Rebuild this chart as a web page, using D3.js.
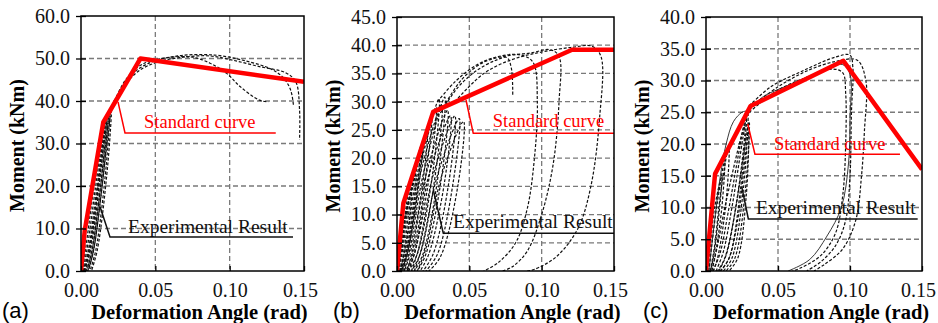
<!DOCTYPE html>
<html>
<head>
<meta charset="utf-8">
<script src="https://cdn.jsdelivr.net/npm/d3@7"></script>
<style>
  body { margin: 0; background: #fff; }
  svg { display: block; }
</style>
</head>
<body>
<svg id="chart" width="938" height="323"></svg>
<script>
// ticks
const xTicks = [0, 0.05, 0.10, 0.15]
const yTicksA = [0, 10, 20, 30, 40, 50, 60]
const yTicksB = [0, 5, 10, 15, 20, 25, 30, 35, 40, 45]
const yTicksC = [0, 5, 10, 15, 20, 25, 30, 35, 40]

// standard curves, [angle, moment]
const standardA = [[0, 0], [0.0025, 9.5], [0.015, 35], [0.040, 50], [0.150, 44.5]]
const standardB = [[0, 0], [0.0044, 12], [0.025, 28.2], [0.121, 39.2], [0.150, 39.2]]
const standardC = [[0, 0], [0.0063, 15.3], [0.031, 26], [0.0954, 33.1], [0.150, 16]]

// experimental hysteresis loops (positive branch)
const loopsA = [
    [[0.0005, 0], [0.003, 5], [0.008, 18], [0.0155, 35], [0.013, 25], [0.006, 6], [0.002, 0]],
    [[0.001, 0], [0.004, 5], [0.0095, 19], [0.0165, 36], [0.014, 26], [0.007, 6], [0.003, 0]],
    [[0.0015, 0], [0.005, 5], [0.0105, 19], [0.0175, 37], [0.015, 26], [0.008, 6], [0.004, 0]],
    [[0.0025, 0], [0.006, 5], [0.0115, 19], [0.0185, 37.5], [0.016, 26], [0.009, 6], [0.005, 0]],
    [[0.0035, 0], [0.007, 4], [0.0125, 18], [0.0195, 38], [0.017, 25], [0.010, 5], [0.006, 0]],
    [[0.0045, 0], [0.008, 4], [0.0135, 18], [0.0205, 38.5], [0.018, 25], [0.011, 5], [0.007, 0]]
]
const envelopeA = [
    [[0.0195, 37.5], [0.0307, 44.2], [0.0397, 47.3], [0.053, 49.3], [0.071, 50.4], [0.0868, 50.6], [0.102, 49.6], [0.120, 48.1], [0.138, 46.6], [0.1445, 44.5], [0.147, 38], [0.147, 30.8]],
    [[0.020, 38], [0.030, 45], [0.041, 48.6], [0.058, 50.2], [0.075, 50.3], [0.0868, 48.9], [0.098, 46.5], [0.107, 43.4], [0.120, 40.2], [0.126, 39.8]],
    [[0.021, 38.5], [0.032, 45.5], [0.045, 48.8], [0.065, 50.6], [0.090, 50.8], [0.110, 49.5], [0.128, 47.5], [0.136, 45.5], [0.141, 42.6], [0.143, 38.7]]
]

const loopsB = [
    [[0.0003, 0], [0.002, 3], [0.005, 9], [0.010, 14], [0.008, 8], [0.004, 2], [0.002, 0]],
    [[0.0005, 0], [0.0025, 3], [0.006, 10], [0.013, 17], [0.011, 10], [0.005, 2], [0.0025, 0]],
    [[0.0008, 0], [0.003, 3], [0.007, 11], [0.0155, 20], [0.013, 12], [0.006, 2], [0.003, 0]],
    [[0.0005, 0], [0.003, 4], [0.008, 14], [0.018, 23], [0.015, 15], [0.007, 3], [0.003, 0]],
    [[0.001, 0], [0.004, 4], [0.010, 15], [0.021, 25], [0.018, 16], [0.009, 3], [0.005, 0]],
    [[0.002, 0], [0.005, 4], [0.011, 15], [0.024, 27.5], [0.020, 17], [0.011, 3], [0.006, 0]],
    [[0.002, 0], [0.006, 4], [0.013, 16], [0.027, 29], [0.023, 18], [0.012, 3], [0.007, 0]],
    [[0.003, 0], [0.007, 4], [0.014, 16], [0.029, 30.5], [0.025, 18], [0.014, 3], [0.008, 0]],
    [[0.004, 0], [0.008, 4], [0.016, 17], [0.031, 29.5], [0.027, 18], [0.016, 3], [0.010, 0]],
    [[0.005, 0], [0.009, 4], [0.018, 17], [0.033, 30.8], [0.029, 18], [0.018, 3], [0.012, 0]],
    [[0.007, 0], [0.011, 4], [0.020, 17], [0.035, 28.5], [0.031, 17], [0.020, 3], [0.014, 0]],
    [[0.008, 0], [0.013, 4], [0.022, 17], [0.037, 27.5], [0.033, 16], [0.022, 3], [0.016, 0]],
    [[0.010, 0], [0.015, 4], [0.025, 17], [0.040, 27.5], [0.036, 16], [0.025, 3], [0.018, 0]],
    [[0.012, 0], [0.017, 4], [0.028, 17], [0.043, 27], [0.039, 16], [0.028, 3], [0.020, 0]],
    [[0.014, 0], [0.020, 4], [0.031, 17], [0.046, 26.5], [0.042, 15], [0.030, 2.5], [0.022, 0]]
]
const envelopeB = [
    [[0.028, 30], [0.040, 33.5], [0.055, 36.5], [0.070, 38], [0.085, 38.3], [0.094, 37], [0.097, 30], [0.095, 20], [0.090, 11], [0.082, 5], [0.070, 1.5], [0.060, 0]],
    [[0.032, 29], [0.045, 34], [0.060, 37], [0.078, 38.2], [0.092, 38.6], [0.106, 39.2], [0.112, 38], [0.112, 30], [0.108, 19], [0.100, 10], [0.090, 3.5], [0.080, 0.8], [0.073, 0]],
    [[0.040, 30], [0.060, 35], [0.080, 37.5], [0.100, 38.8], [0.120, 39.6], [0.135, 39.8], [0.141, 38], [0.140, 27], [0.134, 15], [0.125, 7.5], [0.110, 2.5], [0.095, 0.3], [0.090, 0]],
    [[0.030, 28], [0.042, 32.5], [0.055, 35.5], [0.068, 37.3], [0.076, 37.8], [0.079, 36], [0.080, 31]]
]

const loopsC = [
    [[0.001, 0], [0.003, 4], [0.006, 10], [0.011, 15], [0.009, 9], [0.005, 2], [0.003, 0]],
    [[0.002, 0], [0.004, 4], [0.008, 11], [0.013, 17.5], [0.011, 10], [0.006, 2], [0.004, 0]],
    [[0.003, 0], [0.006, 4], [0.010, 12], [0.016, 20], [0.014, 11], [0.008, 2], [0.005, 0]],
    [[0.004, 0], [0.008, 4], [0.014, 11], [0.027, 23], [0.022, 12], [0.013, 2], [0.008, 0]],
    [[0.005, 0], [0.010, 3], [0.016, 10], [0.028, 24.5], [0.024, 13], [0.016, 2], [0.010, 0]],
    [[0.007, 0], [0.012, 3], [0.018, 10], [0.029, 25], [0.026, 13], [0.018, 2], [0.012, 0]],
    [[0.009, 0], [0.014, 2.5], [0.020, 9], [0.030, 23.5], [0.027, 12], [0.020, 2], [0.014, 0]],
    [[0.010, 0], [0.016, 2], [0.022, 8], [0.0295, 22], [0.028, 12], [0.022, 2], [0.016, 0]]
]
const envelopeC = [
    [[0.030, 26], [0.045, 29], [0.068, 31.6], [0.090, 33.7], [0.100, 34], [0.102, 32], [0.101, 25], [0.100, 15], [0.097, 8], [0.090, 4], [0.080, 1.5], [0.070, 0]],
    [[0.035, 26.5], [0.050, 29], [0.070, 31.5], [0.090, 33], [0.105, 33.2], [0.111, 30], [0.110, 22], [0.108, 15], [0.104, 8], [0.095, 3.5], [0.082, 1], [0.075, 0]],
    [[0.030, 25], [0.050, 28.5], [0.070, 30.5], [0.088, 31.8], [0.095, 31.2], [0.097, 28], [0.097, 20], [0.095, 12], [0.090, 6], [0.080, 2.5], [0.066, 0.5], [0.060, 0]]
]
// the one solid experimental trace in (c)
const solidC = [
    [[0.002, 0], [0.006, 8], [0.010, 15], [0.014, 20], [0.019, 23.5], [0.025, 25], [0.029, 25.3], [0.040, 27.5], [0.060, 29.5], [0.080, 31.5], [0.095, 32.5], [0.100, 31], [0.100, 24], [0.099, 17], [0.094, 10], [0.084, 5.5], [0.072, 1.8], [0.057, 0]]
]

const panels = [
    {
        tag: "(a)", tagX: 2, left: 81, right: 304, top: 16, bottom: 271,
        yMax: 60, yTicks: yTicksA, standard: standardA, loops: loopsA.concat(envelopeA), solid: [],
        red: { from: [0.0249, 39.8], elbow: [0.0296, 32.5], to: 0.131, text: [0.0424, 33.6] },
        black: { from: [0.0128, 15.1], elbow: [0.0195, 8.0], to: 0.1426, text: [0.0316, 8.9] }
    },
    {
        tag: "(b)", tagX: 333, left: 397, right: 614, top: 17, bottom: 271,
        yMax: 45, yTicks: yTicksB, standard: standardB, loops: loopsB.concat(envelopeB), solid: [],
        red: { from: [0.0477, 30.3], elbow: [0.0527, 24.4], to: 0.15, text: [0.0662, 25.6] },
        black: { from: [0.0251, 14.35], elbow: [0.032, 6.68], to: 0.15, text: [0.0387, 7.67] }
    },
    {
        tag: "(c)", tagX: 643, left: 706, right: 922, top: 17, bottom: 271,
        yMax: 40, yTicks: yTicksC, standard: standardC, loops: loopsC.concat(envelopeC), solid: solidC,
        red: { from: [0.029, 23.15], elbow: [0.034, 18.4], to: 0.1347, text: [0.0472, 19.06] },
        black: { from: [0.0248, 13.3], elbow: [0.0294, 8.2], to: 0.147, text: [0.0347, 8.93] }
    }
]

const SERIF = "Liberation Serif"
const SANS = "Liberation Sans"
const svg = d3.select("#chart")
svg.append("rect").attr("width", 938).attr("height", 323).attr("fill", "#fff")

panels.forEach(function (p, i) { drawPanel(svg, p, i) })

function drawPanel(svg, p, i) {
    const x = d3.scaleLinear().domain([0, 0.15]).range([p.left, p.right])
    const y = d3.scaleLinear().domain([0, p.yMax]).range([p.bottom, p.top])
    const g = svg.append("g")

    g.append("clipPath").attr("id", "clip" + i)
        .append("rect")
        .attr("x", p.left).attr("y", p.top)
        .attr("width", p.right - p.left).attr("height", p.bottom - p.top)

    // dashed grid
    g.selectAll(".hgrid").data(p.yTicks.slice(1, -1)).enter().append("line")
        .attr("x1", p.left).attr("x2", p.right)
        .attr("y1", d => y(d)).attr("y2", d => y(d))
        .attr("stroke", "#7a7a7a").attr("stroke-width", 1.3).attr("stroke-dasharray", "5,3")
    g.selectAll(".vgrid").data(xTicks.slice(1, -1)).enter().append("line")
        .attr("y1", p.top).attr("y2", p.bottom)
        .attr("x1", d => x(d)).attr("x2", d => x(d))
        .attr("stroke", "#7a7a7a").attr("stroke-width", 1.3).attr("stroke-dasharray", "5,3")

    const line = d3.line().x(d => x(d[0])).y(d => y(d[1])).curve(d3.curveCatmullRom.alpha(0.5))
    const plot = g.append("g").attr("clip-path", "url(#clip" + i + ")")

    plot.selectAll(".loop").data(p.loops).enter().append("path")
        .attr("d", line)
        .attr("fill", "none").attr("stroke", "#111").attr("stroke-width", 1.2)
        .attr("stroke-dasharray", "3,1.8")
    plot.selectAll(".solid").data(p.solid).enter().append("path")
        .attr("d", line)
        .attr("fill", "none").attr("stroke", "#222").attr("stroke-width", 0.9)

    // standard curve
    plot.append("path")
        .attr("d", d3.line().x(d => x(d[0])).y(d => y(d[1]))(p.standard))
        .attr("fill", "none").attr("stroke", "#ff0000").attr("stroke-width", 4.5)
        .attr("stroke-linejoin", "round")

    // leaders and labels
    const leader = function (a, color) {
        g.append("polyline")
            .attr("points", [[x(a.from[0]), y(a.from[1])], [x(a.elbow[0]), y(a.elbow[1])], [x(a.to), y(a.elbow[1])]].join(" "))
            .attr("fill", "none").attr("stroke", color).attr("stroke-width", 1.5)
    }
    leader(p.red, "#ff0000")
    leader(p.black, "#111")
    g.append("text")
        .attr("x", x(p.red.text[0])).attr("y", y(p.red.text[1]))
        .attr("font-family", SERIF).attr("font-size", 18.5).attr("fill", "#ff0000")
        .text("Standard curve")
    g.append("text")
        .attr("x", x(p.black.text[0])).attr("y", y(p.black.text[1]))
        .attr("font-family", SERIF).attr("font-size", 19.5).attr("fill", "#111")
        .text("Experimental Result")

    // frame
    g.append("rect")
        .attr("x", p.left).attr("y", p.top)
        .attr("width", p.right - p.left).attr("height", p.bottom - p.top)
        .attr("fill", "none").attr("stroke", "#000").attr("stroke-width", 1.5)

    // axes
    const yAxis = g.append("g").attr("transform", "translate(" + p.left + ",0)")
        .call(d3.axisLeft(y).tickValues(p.yTicks).tickFormat(d3.format(".1f")).tickSize(5).tickPadding(6))
    yAxis.attr("font-family", SERIF).attr("font-size", 20)
    yAxis.select(".domain").remove()
    yAxis.selectAll(".tick line").attr("x1", 5).attr("stroke-width", 1.3)
    yAxis.selectAll("text").attr("fill", "#111")

    const xAxis = g.append("g").attr("transform", "translate(0," + p.bottom + ")")
        .call(d3.axisBottom(x).tickValues(xTicks).tickFormat(d3.format(".2f")).tickSize(-5).tickPadding(12))
    xAxis.attr("font-family", SERIF).attr("font-size", 20)
    xAxis.select(".domain").remove()
    xAxis.selectAll(".tick line").attr("stroke-width", 1.3)
    xAxis.selectAll("text").attr("fill", "#111")
        .attr("dx", (d, k) => k === xTicks.length - 1 ? -4 : 0)

    // titles
    const midX = (p.left + p.right) / 2
    const midY = (p.top + p.bottom) / 2
    g.append("text")
        .attr("x", midX + 7).attr("y", 318.5)
        .attr("text-anchor", "middle")
        .attr("font-family", SERIF).attr("font-size", 20.5).attr("font-weight", "bold")
        .text("Deformation Angle (rad)")
    g.append("text")
        .attr("transform", "translate(" + (p.left - 57) + "," + (midY + 2) + ") rotate(-90)")
        .attr("text-anchor", "middle")
        .attr("font-family", SERIF).attr("font-size", 20).attr("font-weight", "bold")
        .text("Moment (kNm)")
    g.append("text")
        .attr("x", p.tagX).attr("y", 318)
        .attr("font-family", SANS).attr("font-size", 22)
        .text(p.tag)
}
</script>
</body>
</html>
